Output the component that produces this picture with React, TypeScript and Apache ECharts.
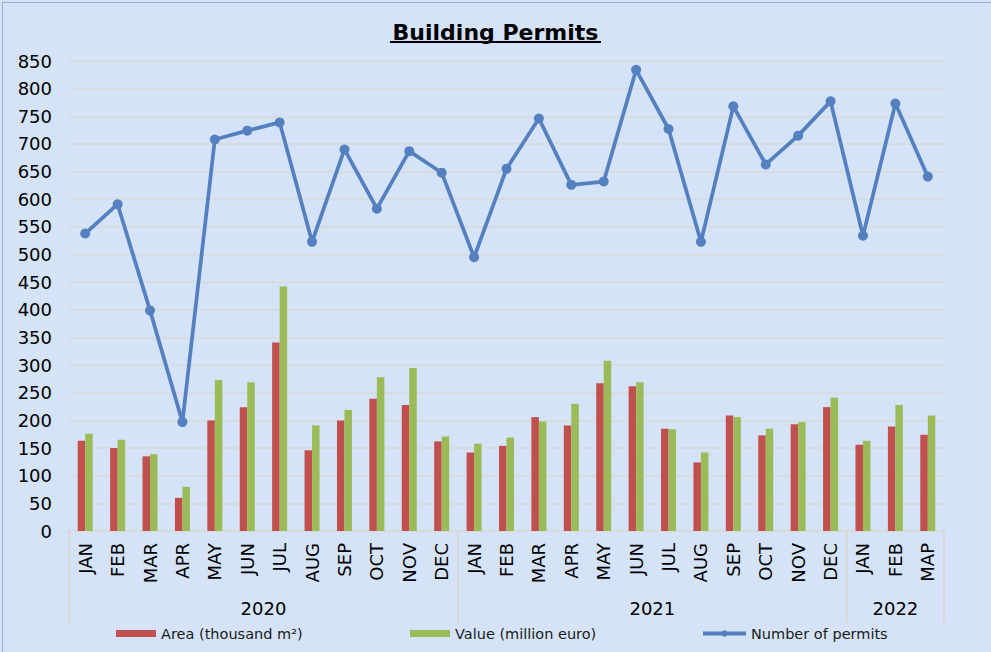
import { useEffect, useRef } from 'react';
import * as echarts from 'echarts';

const months = [
  'JAN', 'FEB', 'MAR', 'APR', 'MAY', 'JUN', 'JUL', 'AUG', 'SEP', 'OCT', 'NOV', 'DEC',
  'JAN', 'FEB', 'MAR', 'APR', 'MAY', 'JUN', 'JUL', 'AUG', 'SEP', 'OCT', 'NOV', 'DEC',
  'JAN', 'FEB', 'MAP',
];

const years = ['2020', '2021', '2022'];
const monthsPerYear = [12, 12, 3];

const area = [
  163, 150, 135, 60, 200, 224, 341, 146, 200, 239, 228, 162,
  142, 154, 206, 191, 267, 262, 185, 124, 209, 173, 193, 224,
  156, 189, 174,
];

const value = [
  176, 165, 139, 80, 273, 269, 442, 191, 219, 278, 295, 171,
  158, 169, 198, 230, 308, 269, 184, 142, 206, 185, 197, 241,
  163, 228, 209,
];

const permits = [
  538, 591, 399, 197, 708, 724, 739, 523, 690, 583, 687, 648,
  495, 655, 746, 626, 632, 834, 727, 523, 768, 663, 715, 777,
  534, 773, 641,
];

const yTicks = { min: 0, max: 850, step: 50 };

const FONT = '"DejaVu Sans", Verdana, sans-serif';
const GRID_COLOR = '#d9d9d9';
const LEGEND_TEXT = { fontFamily: FONT, fontSize: 14.5, color: '#1a1a1a' };

export default function App() {
  const chartRef = useRef<HTMLDivElement>(null);

  useEffect(() => {
    if (!chartRef.current) return;
    const chart = echarts.init(chartRef.current, null, { renderer: 'svg' });

    // year group boundaries and centres on a 0..27 value scale
    const bounds = [0];
    const centres: number[] = [];
    monthsPerYear.forEach((n) => {
      const start = bounds[bounds.length - 1];
      centres.push(start + n / 2);
      bounds.push(start + n);
    });

    const option: echarts.EChartsOption = {
      animation: false,
      backgroundColor: '#d5e3f8',
      textStyle: { fontFamily: FONT },
      title: {
        text: 'Building Permits',
        left: 'center',
        top: 16,
        textStyle: { fontFamily: FONT, fontSize: 22, fontWeight: 'bold', color: '#000' },
      },
      graphic: [
        {
          type: 'rect',
          left: 'center',
          top: 41,
          shape: { width: 211, height: 2 },
          style: { fill: '#000' },
        },
        {
          type: 'rect',
          left: 0,
          top: 0,
          shape: { x: 0.5, y: 0.5, width: 990, height: 651 },
          style: { fill: 'none', stroke: '#95b3d7', lineWidth: 1 },
          silent: true,
        },
      ],
      legend: [
        {
          data: ['Area (thousand m²)'],
          left: 116,
          top: 626,
          padding: 0,
          icon: 'rect',
          itemWidth: 40,
          itemHeight: 7,
          textStyle: LEGEND_TEXT,
        },
        {
          data: ['Value (million euro)'],
          left: 410,
          top: 626,
          padding: 0,
          icon: 'rect',
          itemWidth: 40,
          itemHeight: 7,
          textStyle: LEGEND_TEXT,
        },
        {
          data: ['Number of permits'],
          left: 701,
          top: 626,
          padding: 0,
          itemWidth: 43,
          itemHeight: 8,
          lineStyle: { width: 4 },
          textStyle: LEGEND_TEXT,
        },
      ],
      grid: { left: 69, right: 47, top: 61, bottom: 121 },
      xAxis: [
        {
          type: 'category',
          position: 'bottom',
          data: months,
          axisLine: { lineStyle: { color: GRID_COLOR, width: 2 } },
          axisTick: { show: false },
          axisLabel: {
            interval: 0,
            rotate: 90,
            margin: 12,
            fontFamily: FONT,
            fontSize: 18,
            color: '#000',
          },
        },
        {
          type: 'value',
          position: 'bottom',
          min: 0,
          max: months.length,
          axisLine: { show: false },
          splitLine: { show: false },
          axisTick: {
            show: true,
            length: 92,
            customValues: bounds,
            lineStyle: { color: GRID_COLOR, width: 2 },
          },
          axisLabel: {
            customValues: centres,
            margin: 68,
            fontFamily: FONT,
            fontSize: 18,
            color: '#000',
            formatter: (v: number) => years[centres.indexOf(v)] ?? '',
          },
        },
      ],
      yAxis: {
        type: 'value',
        min: yTicks.min,
        max: yTicks.max,
        interval: yTicks.step,
        axisLine: { show: false },
        axisTick: { show: false },
        axisLabel: { margin: 17, fontFamily: FONT, fontSize: 18, color: '#000' },
        splitLine: { lineStyle: { color: GRID_COLOR, width: 1.5 } },
      },
      series: [
        {
          name: 'Area (thousand m²)',
          type: 'bar',
          xAxisIndex: 0,
          data: area,
          barWidth: 7.5,
          barGap: '0%',
          itemStyle: { color: '#c0504d' },
        },
        {
          name: 'Value (million euro)',
          type: 'bar',
          xAxisIndex: 0,
          data: value,
          barWidth: 7.5,
          barGap: '0%',
          itemStyle: { color: '#9bbb59' },
        },
        {
          name: 'Number of permits',
          type: 'line',
          xAxisIndex: 0,
          data: permits,
          symbol: 'circle',
          symbolSize: 10,
          lineStyle: { color: '#5580bf', width: 3.75 },
          itemStyle: { color: '#5580bf' },
        },
      ],
    };

    chart.setOption(option);
    return () => {
      chart.dispose();
    };
  }, []);

  return (
    <div
      ref={chartRef}
      style={{ position: 'fixed', left: 0, top: 0, width: 991, height: 652 }}
    />
  );
}
